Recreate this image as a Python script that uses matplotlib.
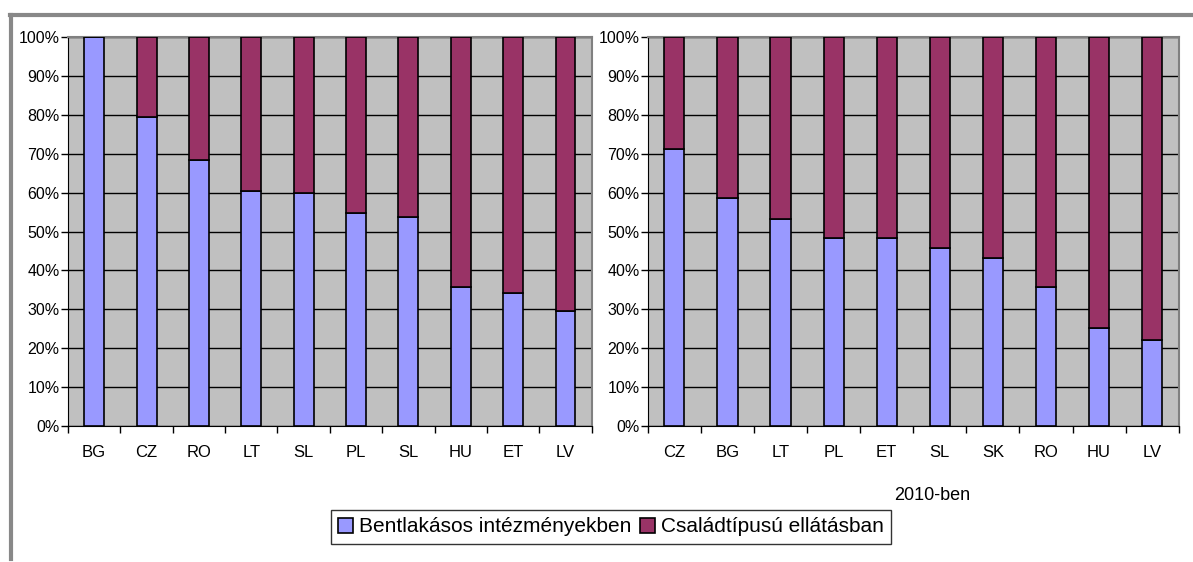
import numpy as np
import matplotlib.pyplot as plt
from matplotlib.lines import Line2D
from matplotlib.patches import Patch

# data (share of children, %)
left_countries = ['BG', 'CZ', 'RO', 'LT', 'SL', 'PL', 'SL', 'HU', 'ET', 'LV']
left_inst = [100, 79.4, 68.5, 60.5, 59.9, 54.7, 53.8, 35.8, 34.3, 29.5]

right_countries = ['CZ', 'BG', 'LT', 'PL', 'ET', 'SL', 'SK', 'RO', 'HU', 'LV']
right_inst = [71.1, 58.5, 53.1, 48.4, 48.4, 45.7, 43.1, 35.8, 25.2, 22.1]

series_labels = ['Bentlakásos intézményekben', 'Családtípusú ellátásban']
blue = '#9999FF'
maroon = '#993366'

plt.rcParams['font.family'] = ['Liberation Sans', 'DejaVu Sans']

fig = plt.figure(figsize=(11.93, 5.62), dpi=100)


def draw_panel(ax, countries, inst):
    x = np.arange(len(countries))
    inst = np.array(inst)
    family = 100 - inst
    ax.set_facecolor('#C0C0C0')
    ax.bar(x, inst, width=0.38, color=blue, edgecolor='black', linewidth=1.2, zorder=3)
    ax.bar(x, family, bottom=inst, width=0.38, color=maroon, edgecolor='black',
           linewidth=1.2, zorder=3)
    ax.set_xlim(-0.5, len(countries) - 0.5)
    ax.set_ylim(0, 100)
    ax.set_yticks(np.arange(0, 101, 10))
    ax.set_yticklabels([f'{v}%' for v in range(0, 101, 10)], fontsize=11.5)
    ax.set_xticks(x)
    ax.set_xticklabels(countries, fontsize=12)
    ax.set_xticks(np.arange(-0.5, len(countries)), minor=True)
    ax.tick_params(axis='x', which='major', length=0, pad=14)
    ax.tick_params(axis='x', which='minor', length=5, direction='out', width=1)
    ax.tick_params(axis='y', length=5, direction='out', width=1, pad=1)
    ax.yaxis.grid(True, color='black', linewidth=1, zorder=1)
    ax.set_axisbelow(True)
    for s in ['top', 'right']:
        ax.spines[s].set_color('#808080')
        ax.spines[s].set_linewidth(1.5)
    ax.spines['left'].set_color('black')
    ax.spines['bottom'].set_color('black')


ax1 = fig.add_axes([0.057, 0.242, 0.439, 0.692])
draw_panel(ax1, left_countries, left_inst)

ax2 = fig.add_axes([0.543, 0.242, 0.445, 0.692])
draw_panel(ax2, right_countries, right_inst)

fig.text(932 / 1193, 1 - 496 / 562, '2010-ben', ha='center', va='center', fontsize=13)

handles = [Patch(facecolor=blue, edgecolor='black', linewidth=1.2),
           Patch(facecolor=maroon, edgecolor='black', linewidth=1.2)]
leg = fig.legend(handles, series_labels, loc='center', bbox_to_anchor=(611 / 1193, 1 - 527 / 562),
                 ncol=2, fontsize=15, frameon=True, fancybox=False, handlelength=0.7,
                 handleheight=0.7, handletextpad=0.3, columnspacing=0.4, borderpad=0.35)
leg.get_frame().set_edgecolor('black')
leg.get_frame().set_linewidth(1)

# outer grey frame (top and left edges only visible)
fig.add_artist(Line2D([10 / 1193, 1.0], [1 - 15 / 562] * 2, color='#888888', linewidth=3))
fig.add_artist(Line2D([11 / 1193] * 2, [1 - 15 / 562, 0.005], color='#888888', linewidth=3))

plt.savefig('out.png', dpi=100)
